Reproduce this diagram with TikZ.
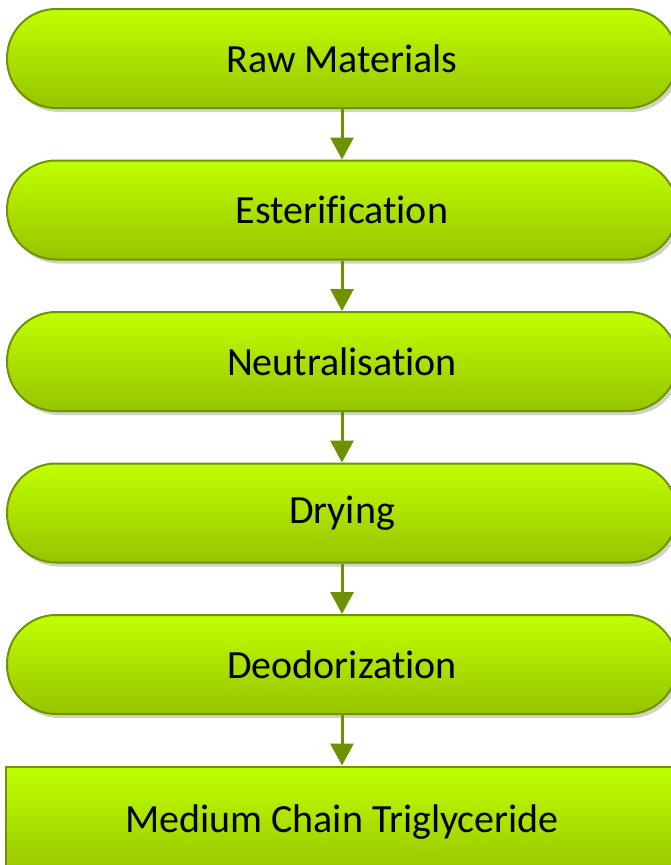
\documentclass[tikz,border=0pt]{standalone}
\usepackage{fontspec}
\setmainfont[Ligatures=NoCommon]{Carlito}
\usetikzlibrary{shadows,arrows.meta}
\definecolor{limetop}{RGB}{192,255,0}
\definecolor{limebot}{RGB}{150,196,0}
\definecolor{limeedge}{RGB}{112,148,0}
\definecolor{arrowgreen}{RGB}{110,145,0}
\definecolor{shadowgreen}{RGB}{150,160,120}
\tikzset{
  boxbase/.style={draw=limeedge, line width=2pt, top color=limetop, bottom color=limebot,
    minimum width=670pt, text=black, inner sep=0pt,
    font=\fontsize{40}{48}\selectfont},
  stage/.style={boxbase, minimum height=99pt, rounded corners=49pt,
    drop shadow={shadow xshift=3pt, shadow yshift=-4pt, fill=shadowgreen, opacity=0.45}},
  finalbox/.style={boxbase, minimum width=672pt, minimum height=111pt},
  flow/.style={draw=arrowgreen, line width=3pt, -{Triangle[length=22pt,width=23pt]}}
}
\begin{document}
\begin{tikzpicture}[x=1pt,y=-1pt]
\useasboundingbox (0,0) rectangle (671,865);
\clip (0,0) rectangle (671,865);
\fill[white] (0,0) rectangle (671,865);
\node[stage] (raw) at (342,58.5) {Raw Materials};
\node[stage] (est) at (342,210) {Esterification};
\node[stage] (neu) at (342,361.5) {Neutralisation};
\node[stage] (dry) at (342,513) {Drying};
\node[stage] (deo) at (342,664.5) {Deodorization};
\node[finalbox] (mct) at (342,822) {Medium Chain Triglyceride};
\draw[flow] (raw) -- (est);
\draw[flow] (est) -- (neu);
\draw[flow] (neu) -- (dry);
\draw[flow] (dry) -- (deo);
\draw[flow] (deo) -- (mct);
\end{tikzpicture}
\end{document}
